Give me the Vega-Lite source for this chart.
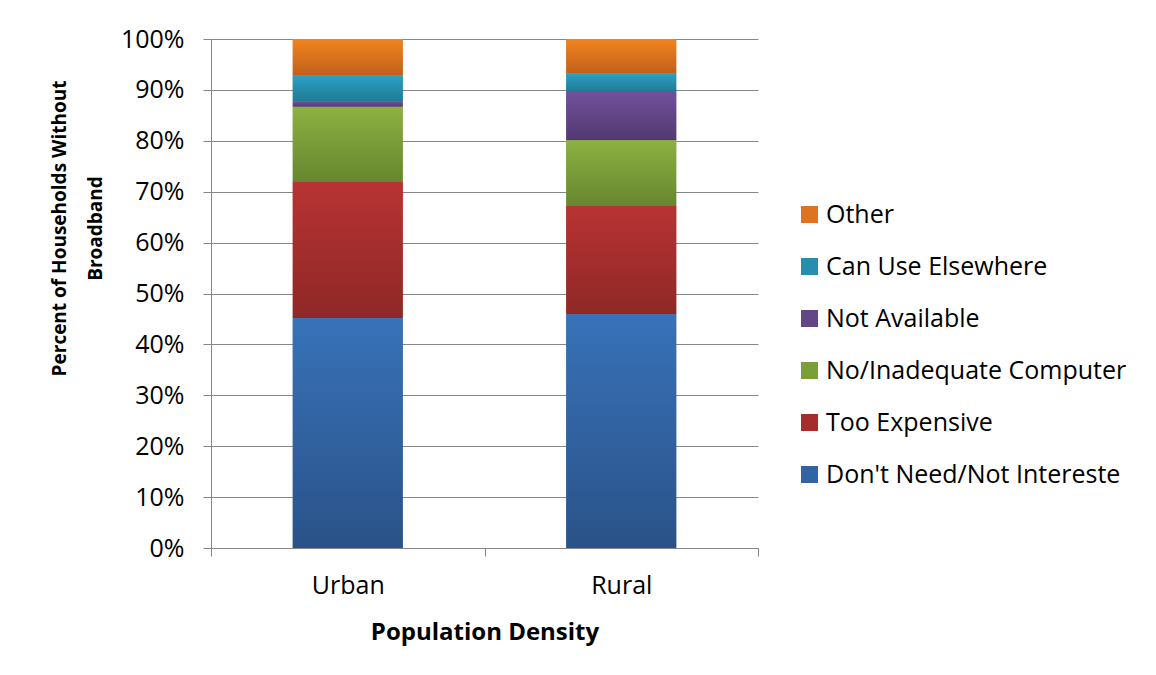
{
  "$schema": "https://vega.github.io/schema/vega-lite/v6.json",
  "autosize": "none",
  "width": 547,
  "height": 509,
  "padding": {"left": 211, "top": 39, "right": 398, "bottom": 127},
  "background": "white",
  "config": {"view": {"stroke": null}, "font": "Open Sans"},
  "data": {
    "values": [
      {"density": "Urban", "reason": "Don't Need/Not Intereste", "pct": 45.2},
      {"density": "Urban", "reason": "Too Expensive", "pct": 26.8},
      {"density": "Urban", "reason": "No/Inadequate Computer", "pct": 14.7},
      {"density": "Urban", "reason": "Not Available", "pct": 1.0},
      {"density": "Urban", "reason": "Can Use Elsewhere", "pct": 5.2},
      {"density": "Urban", "reason": "Other", "pct": 7.1},
      {"density": "Rural", "reason": "Don't Need/Not Intereste", "pct": 45.9},
      {"density": "Rural", "reason": "Too Expensive", "pct": 21.3},
      {"density": "Rural", "reason": "No/Inadequate Computer", "pct": 12.9},
      {"density": "Rural", "reason": "Not Available", "pct": 9.5},
      {"density": "Rural", "reason": "Can Use Elsewhere", "pct": 3.6},
      {"density": "Rural", "reason": "Other", "pct": 6.8}
    ]
  },
  "transform": [
    {"calculate": "indexof(['Don\\'t Need/Not Intereste','Too Expensive','No/Inadequate Computer','Not Available','Can Use Elsewhere','Other'], datum.reason)", "as": "stackOrder"},
    {"stack": "pct", "groupby": ["density"], "sort": [{"field": "stackOrder", "order": "ascending"}], "as": ["y0", "y1"]}
  ],
  "encoding": {
    "x": {
      "field": "density",
      "type": "nominal",
      "sort": ["Urban", "Rural"],
      "scale": {"paddingInner": 0, "paddingOuter": 0},
      "axis": {
        "tickBand": "extent",
        "tickSize": 8,
        "tickColor": "#868686",
        "domainColor": "#868686",
        "labelAngle": 0,
        "labelFontSize": 25,
        "labelColor": "black",
        "labelPadding": 17,
        "title": "Population Density",
        "titleFontSize": 24,
        "titleFontWeight": "bold",
        "titleColor": "black",
        "titlePadding": 22
      }
    },
    "y": {
      "field": "y0",
      "type": "quantitative",
      "scale": {"domain": [0, 100], "nice": false},
      "axis": {
        "values": [0, 10, 20, 30, 40, 50, 60, 70, 80, 90, 100],
        "labelExpr": "datum.value + '%'",
        "grid": true,
        "gridColor": "#868686",
        "tickColor": "#868686",
        "domainColor": "#868686",
        "tickSize": 8,
        "labelFontSize": 25,
        "labelColor": "black",
        "labelPadding": 19,
        "title": ["Percent of Households Without", "Broadband"],
        "titleFontSize": 19,
        "titleFontWeight": "bold",
        "titleColor": "black",
        "titleLineHeight": 36,
        "titleAngle": -90,
        "titleAlign": "center",
        "titleBaseline": "middle",
        "titleX": -152,
        "titleY": 189
      }
    },
    "y2": {"field": "y1"}
  },
  "layer": [
    {
      "mark": {"type": "bar", "width": {"band": 0.402}},
      "encoding": {
        "color": {
          "field": "reason",
          "type": "nominal",
          "scale": {
            "domain": ["Other", "Can Use Elsewhere", "Not Available", "No/Inadequate Computer", "Too Expensive", "Don't Need/Not Intereste"],
            "range": ["#DC7420", "#278EAD", "#634687", "#7B9E39", "#A52E2D", "#3263A3"]
          },
          "legend": {
            "orient": "none",
            "legendX": 586,
            "legendY": 163,
            "title": null,
            "padding": 0,
            "symbolType": "square",
            "symbolSize": 290,
            "symbolStrokeWidth": 0,
            "symbolOpacity": 1,
            "labelFontSize": 25,
            "labelColor": "black",
            "labelOffset": 4,
            "labelLimit": 400,
            "rowPadding": 26
          }
        }
      }
    },
    {
      "transform": [{"filter": "datum.reason === 'Other'"}],
      "mark": {"type": "bar", "width": {"band": 0.402}, "color": {"gradient": "linear", "x1": 0, "y1": 0, "x2": 0, "y2": 1, "stops": [{"offset": 0, "color": "#F2841F"}, {"offset": 1, "color": "#BF601B"}]}}
    },
    {
      "transform": [{"filter": "datum.reason === 'Can Use Elsewhere'"}],
      "mark": {"type": "bar", "width": {"band": 0.402}, "color": {"gradient": "linear", "x1": 0, "y1": 0, "x2": 0, "y2": 1, "stops": [{"offset": 0, "color": "#2DA0C4"}, {"offset": 1, "color": "#207A93"}]}}
    },
    {
      "transform": [{"filter": "datum.reason === 'Not Available'"}],
      "mark": {"type": "bar", "width": {"band": 0.402}, "color": {"gradient": "linear", "x1": 0, "y1": 0, "x2": 0, "y2": 1, "stops": [{"offset": 0, "color": "#714F9C"}, {"offset": 1, "color": "#523A70"}]}}
    },
    {
      "transform": [{"filter": "datum.reason === 'No/Inadequate Computer'"}],
      "mark": {"type": "bar", "width": {"band": 0.402}, "color": {"gradient": "linear", "x1": 0, "y1": 0, "x2": 0, "y2": 1, "stops": [{"offset": 0, "color": "#8DB141"}, {"offset": 1, "color": "#67862F"}]}}
    },
    {
      "transform": [{"filter": "datum.reason === 'Too Expensive'"}],
      "mark": {"type": "bar", "width": {"band": 0.402}, "color": {"gradient": "linear", "x1": 0, "y1": 0, "x2": 0, "y2": 1, "stops": [{"offset": 0, "color": "#B83333"}, {"offset": 1, "color": "#8E2826"}]}}
    },
    {
      "transform": [{"filter": "datum.reason === 'Don\\'t Need/Not Intereste'"}],
      "mark": {"type": "bar", "width": {"band": 0.402}, "color": {"gradient": "linear", "x1": 0, "y1": 0, "x2": 0, "y2": 1, "stops": [{"offset": 0, "color": "#3872B9"}, {"offset": 1, "color": "#2A5288"}]}}
    }
  ]
}
